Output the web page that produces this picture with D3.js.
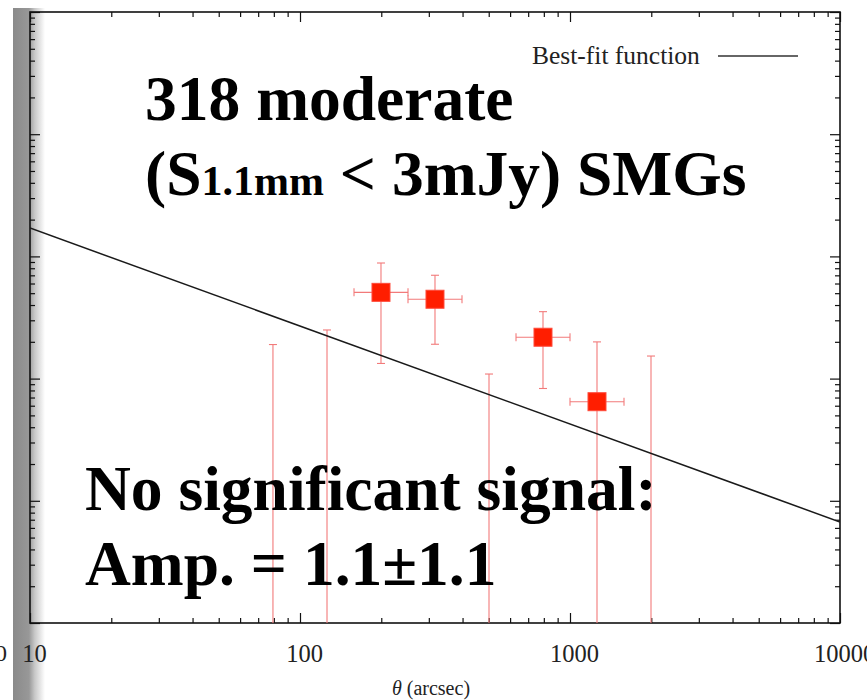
<!DOCTYPE html>
<html>
<head>
<meta charset="utf-8">
<script src="https://cdn.jsdelivr.net/npm/d3@7"></script>
<style>
  body { margin: 0; background: #fff; }
  svg { display: block; }
</style>
</head>
<body>
<div id="chart"></div>
<script>
// angular bins (arcsec), centres and edges
const theta   = [79.4, 125.9, 199.5, 316.2, 501.2, 794.3, 1258.9, 1995.3];
const thetaLo = [63.1, 100, 158.5, 251.2, 398.1, 631.0, 1000, 1584.9];
const thetaHi = [100, 158.5, 251.2, 398.1, 631.0, 1000, 1584.9, 2511.9];
// w(theta) and 1-sigma errors (negative values fall off the log axis)
const wValue  = [-0.056, -0.030, 0.0508, 0.0446, -0.0071, 0.0218, 0.00647, -0.0027];
const wError  = [0.075, 0.055, 0.0375, 0.0255, 0.018, 0.0135, 0.0135, 0.018];
// best-fit power law, end points
const fitTheta = [10, 10000];
const fitW     = [0.1706, 0.000671];
// axis labels
const xTickLabels = [10, 100, 1000, 10000];
const yMajorTicks = [0.0001, 0.001, 0.01, 0.1, 1, 10];

const W = 867, H = 700;
const pLeft = 30, pRight = 840, pTop = 12, pBottom = 623;

const svg = d3.select("#chart").append("svg")
    .attr("width", W).attr("height", H);

// gray strip from the neighbouring slide panel
const defs = svg.append("defs");
const grad = defs.append("linearGradient").attr("id", "strip")
    .attr("x1", 0).attr("x2", 1).attr("y1", 0).attr("y2", 0);
grad.append("stop").attr("offset", "0%").attr("stop-color", "#8a8a8a");
grad.append("stop").attr("offset", "50%").attr("stop-color", "#989898");
grad.append("stop").attr("offset", "68%").attr("stop-color", "#c8c8c8");
grad.append("stop").attr("offset", "100%").attr("stop-color", "#ffffff");
svg.append("rect").attr("x", 13).attr("y", 8).attr("width", 32).attr("height", H - 8)
    .attr("fill", "url(#strip)");
svg.append("text").attr("x", 7).attr("y", 661)
    .attr("text-anchor", "end").attr("font-family", "Liberation Serif")
    .attr("font-size", 24).attr("fill", "#222").text("10000");

defs.append("clipPath").attr("id", "plotclip").append("rect")
    .attr("x", pLeft).attr("y", pTop).attr("width", pRight - pLeft).attr("height", pBottom - pTop);

const x = d3.scaleLog().domain([10, 10000]).range([pLeft, pRight]);
const y = d3.scaleLog().domain([1e-4, 10]).range([pBottom, pTop]).clamp(true);

const minorX = x.ticks().filter(t => !xTickLabels.includes(t));
const minorY = y.ticks().filter(t => !yMajorTicks.some(m => Math.abs(m - t) / m < 1e-6));

const axisStyle = g => {
    g.select(".domain").remove();
    g.selectAll("line").attr("stroke", "#111").attr("stroke-width", 1.2);
};

// x axes (bottom with labels, top without)
svg.append("g").attr("transform", `translate(0,${pBottom})`)
    .call(d3.axisBottom(x).tickValues(minorX).tickSizeInner(-5).tickSizeOuter(0).tickFormat(""))
    .call(axisStyle);
svg.append("g").attr("transform", `translate(0,${pBottom})`)
    .call(d3.axisBottom(x).tickValues(xTickLabels).tickSizeInner(-10).tickSizeOuter(0)
        .tickPadding(22).tickFormat(d3.format("d")))
    .call(axisStyle)
    .selectAll("text").attr("font-family", "Liberation Serif").attr("font-size", 24.5)
    .attr("fill", "#222").attr("dx", 4);
svg.append("g").attr("transform", `translate(0,${pTop})`)
    .call(d3.axisTop(x).tickValues(minorX).tickSizeInner(-5).tickSizeOuter(0).tickFormat(""))
    .call(axisStyle);
svg.append("g").attr("transform", `translate(0,${pTop})`)
    .call(d3.axisTop(x).tickValues(xTickLabels).tickSizeInner(-10).tickSizeOuter(0).tickFormat(""))
    .call(axisStyle);

// y axes, left and right, ticks inside, no labels (hidden by the strip)
[[d3.axisLeft, pLeft], [d3.axisRight, pRight]].forEach(([ax, pos]) => {
    svg.append("g").attr("transform", `translate(${pos},0)`)
        .call(ax(y).tickValues(minorY).tickSizeInner(-5).tickSizeOuter(0).tickFormat(""))
        .call(axisStyle);
    svg.append("g").attr("transform", `translate(${pos},0)`)
        .call(ax(y).tickValues(yMajorTicks).tickSizeInner(-10).tickSizeOuter(0).tickFormat(""))
        .call(axisStyle);
});

// frame
svg.append("rect").attr("x", pLeft).attr("y", pTop)
    .attr("width", pRight - pLeft).attr("height", pBottom - pTop)
    .attr("fill", "none").attr("stroke", "#111").attr("stroke-width", 1.6);

const plot = svg.append("g").attr("clip-path", "url(#plotclip)");

// data table built from the arrays
const points = theta.map((t, i) => ({
    t, lo: thetaLo[i], hi: thetaHi[i], w: wValue[i], e: wError[i]
}));
const yv = v => v > 0 ? y(v) : pBottom + 20;

const errColor = "#f27a7a";
const cap = 4;
const eb = plot.append("g").attr("stroke", errColor).attr("stroke-width", 1.1).attr("fill", "none");
points.forEach(d => {
    const cx = x(d.t);
    const yTop = yv(d.w + d.e), yBot = yv(d.w - d.e);
    eb.append("line").attr("x1", cx).attr("x2", cx).attr("y1", yTop).attr("y2", yBot);
    eb.append("line").attr("x1", cx - cap).attr("x2", cx + cap).attr("y1", yTop).attr("y2", yTop);
    eb.append("line").attr("x1", cx - cap).attr("x2", cx + cap).attr("y1", yBot).attr("y2", yBot);
    if (d.w > 0) {
        const cy = y(d.w);
        eb.append("line").attr("x1", x(d.lo)).attr("x2", x(d.hi)).attr("y1", cy).attr("y2", cy);
        eb.append("line").attr("x1", x(d.lo)).attr("x2", x(d.lo)).attr("y1", cy - cap).attr("y2", cy + cap);
        eb.append("line").attr("x1", x(d.hi)).attr("x2", x(d.hi)).attr("y1", cy - cap).attr("y2", cy + cap);
    }
});

// best-fit line
plot.append("path")
    .datum(fitTheta.map((t, i) => [t, fitW[i]]))
    .attr("d", d3.line().x(d => x(d[0])).y(d => y(d[1])))
    .attr("fill", "none").attr("stroke", "#1a1a1a").attr("stroke-width", 1.5);

// red squares
const sq = 18;
plot.selectAll("rect.pt")
    .data(points.filter(d => d.w > 0))
    .join("rect")
    .attr("class", "pt")
    .attr("x", d => x(d.t) - sq / 2)
    .attr("y", d => y(d.w) - sq / 2)
    .attr("width", sq).attr("height", sq)
    .attr("fill", "#ff1e00").attr("stroke", "#ff4a3a").attr("stroke-width", 1);

// legend
svg.append("text").attr("x", 532).attr("y", 64)
    .attr("font-family", "Liberation Serif").attr("font-size", 25.5).attr("fill", "#222")
    .text("Best-fit function");
svg.append("line").attr("x1", 718).attr("x2", 798).attr("y1", 56).attr("y2", 56)
    .attr("stroke", "#333").attr("stroke-width", 1.5);

// annotations
const big = 63.5;
const ann = svg.append("g").attr("font-family", "Liberation Serif")
    .attr("font-weight", "bold").attr("fill", "#000");
ann.append("text").attr("x", 145).attr("y", 120).attr("font-size", big).text("318 moderate");
const l2 = ann.append("text").attr("x", 145).attr("y", 195).attr("font-size", big);
l2.append("tspan").text("(S");
l2.append("tspan").attr("font-size", 42).text("1.1mm");
l2.append("tspan").text(" < 3mJy) SMGs");
ann.append("text").attr("x", 85).attr("y", 510).attr("font-size", big).text("No significant signal:");
ann.append("text").attr("x", 85).attr("y", 585).attr("font-size", big).text("Amp. = 1.1±1.1");

// x axis title
const xt = svg.append("text").attr("x", 431).attr("y", 695).attr("text-anchor", "middle")
    .attr("font-family", "Liberation Serif").attr("font-size", 20).attr("fill", "#222");
xt.append("tspan").attr("font-style", "italic").text("θ");
xt.append("tspan").text(" (arcsec)");
</script>
</body>
</html>
